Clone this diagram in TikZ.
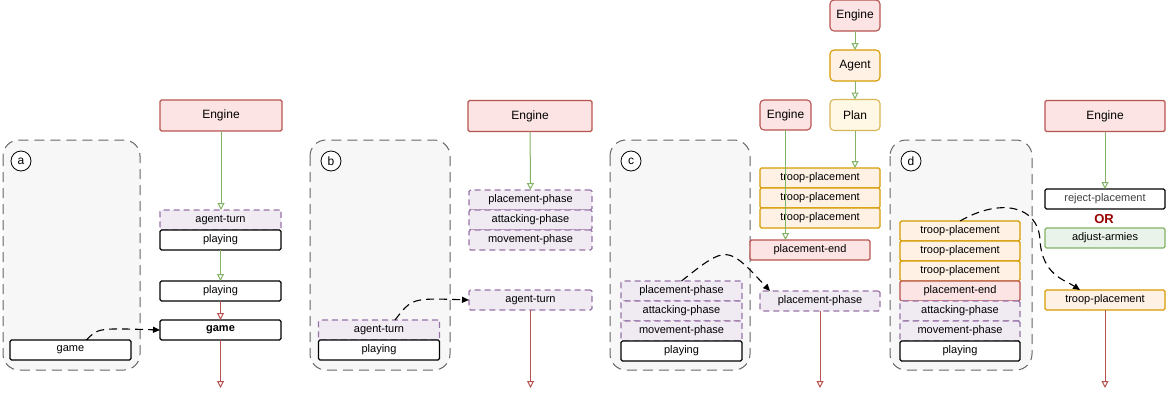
\documentclass[tikz,border=0pt]{standalone}
\usepackage{fontspec}
\setmainfont{Liberation Sans}
\usetikzlibrary{arrows.meta}
\definecolor{enginedraw}{HTML}{B85450}
\definecolor{enginefill}{HTML}{FBE4E3}
\definecolor{phasedraw}{HTML}{9673A6}
\definecolor{phasefill}{HTML}{F0EAF3}
\definecolor{troopdraw}{HTML}{D79B00}
\definecolor{troopfill}{HTML}{FFF2E5}
\definecolor{plandraw}{HTML}{D6B656}
\definecolor{planfill}{HTML}{FFF8E5}
\definecolor{adjustdraw}{HTML}{82B366}
\definecolor{adjustfill}{HTML}{EAF3E9}
\definecolor{ordraw}{HTML}{990000}
\begin{document}
\begin{tikzpicture}
  [x=1pt,y=-1pt,
   every node/.style={font=\fontsize{11}{13}\selectfont},
   playbox/.style={rectangle,draw=black,fill=white,line width=1.1pt,rounded corners=1.5pt,
                   inner sep=0,outer sep=0,minimum width=121pt,minimum height=20pt},
   phasebox/.style={playbox,draw=phasedraw,fill=phasefill,dash pattern=on 6pt off 4pt},
   troopbox/.style={playbox,draw=troopdraw,fill=troopfill},
   endbox/.style={playbox,draw=enginedraw,fill=enginefill},
   adjustbox/.style={playbox,draw=adjustdraw,fill=adjustfill},
   enginebox/.style={playbox,draw=enginedraw,fill=enginefill,minimum width=122pt,
                     minimum height=31pt,font=\fontsize{12}{14}\selectfont},
   smallbox/.style={enginebox,minimum width=50pt,rounded corners=4pt},
   frame/.style={draw=black!60,fill=black!3,line width=1pt,rounded corners=16pt,
                 dash pattern=on 10pt off 6pt},
   tagring/.style={circle,draw=black,fill=white,line width=0.8pt,minimum size=20pt,
                   inner sep=0,font=\fontsize{12}{14}\selectfont},
   goarrow/.style={draw=adjustdraw,line width=1pt,-{Triangle[open,length=7pt,width=7pt]}},
   exitarrow/.style={draw=enginedraw,line width=1pt,-{Triangle[open,length=7pt,width=7pt]}},
   dasharrow/.style={draw=black,line width=1.1pt,dash pattern=on 8pt off 5pt,
                     -{Triangle[length=7pt,width=6pt]}}]
  \useasboundingbox (0,0) rectangle (1166,400);
  % (a)
  \draw[frame] (3,140) rectangle (140,370);
  \node[tagring] (tagA) at (21,161) {a};
  \node[playbox] (gameIn) at (70.5,350) {game};
  \node[enginebox] (engA) at (221,115.5) {Engine};
  \node[phasebox] (turnA) at (220.5,220) {agent-turn};
  \node[playbox] (playA1) at (220.5,240) {playing};
  \node[playbox] (playA2) at (220.5,291) {playing};
  \node[playbox,font=\fontsize{11}{13}\selectfont\bfseries] (gameA) at (220.5,330) {game};
  \coordinate (endA) at (220.5,388);
  \draw[goarrow] (engA.south) -- (engA.south |- turnA.north);
  \draw[goarrow] (playA1) -- (playA2);
  \draw[exitarrow] (playA2) -- (gameA);
  \draw[exitarrow] (gameA) -- (endA);
  \draw[dasharrow] ([xshift=16pt]gameIn.north) .. controls (98,328) .. (gameA.west);
  % (b)
  \draw[frame] (310,140) rectangle (450,370);
  \node[tagring] (tagB) at (331,161) {b};
  \node[phasebox] (turnB) at (379,330) {agent-turn};
  \node[playbox] (playB) at (379,350) {playing};
  \node[enginebox,minimum width=124pt] (engB) at (530,116) {Engine};
  \node[phasebox,minimum width=123pt] (placeB) at (530.5,200) {placement-phase};
  \node[phasebox,minimum width=123pt] (attackB) at (530.5,220) {attacking-phase};
  \node[phasebox,minimum width=123pt] (moveB) at (530.5,240) {movement-phase};
  \node[phasebox,minimum width=123pt] (turnB2) at (530.5,300) {agent-turn};
  \coordinate (endB) at (530.5,388);
  \draw[goarrow] (engB) -- (placeB);
  \draw[exitarrow] (turnB2) -- (endB);
  \draw[dasharrow] ([xshift=16pt]turnB.north) .. controls (412,298) .. (turnB2.west);
  % (c)
  \draw[frame] (610,140) rectangle (750,370);
  \node[tagring] (tagC) at (631,161) {c};
  \node[phasebox] (placeC) at (681.5,291) {placement-phase};
  \node[phasebox] (attackC) at (681.5,311) {attacking-phase};
  \node[phasebox] (moveC) at (681.5,331) {movement-phase};
  \node[playbox] (playC) at (681.5,351) {playing};
  \node[smallbox] (engC) at (855,15.5) {Engine};
  \node[smallbox,draw=troopdraw,fill=troopfill] (agentC) at (855,65.5) {Agent};
  \node[smallbox,draw=plandraw,fill=planfill] (planC) at (855,115) {Plan};
  \node[smallbox,minimum width=51pt,minimum height=30pt] (engC2) at (785.5,115) {Engine};
  \node[troopbox,minimum width=120pt] (troopC1) at (820,178) {troop-placement};
  \node[troopbox,minimum width=120pt] (troopC2) at (820,198) {troop-placement};
  \node[troopbox,minimum width=120pt] (troopC3) at (820,218) {troop-placement};
  \node[endbox,minimum width=120pt] (endingC) at (810,250) {placement-end};
  \node[phasebox,minimum width=120pt] (placeC2) at (820,301) {placement-phase};
  \coordinate (endC) at (820,388);
  \draw[goarrow] (engC) -- (agentC);
  \draw[goarrow] (agentC) -- (planC);
  \draw[goarrow] (planC.south) -- (planC.south |- troopC1.north);
  \draw[goarrow] (engC2.south) -- (engC2.south |- endingC.north);
  \draw[exitarrow] (placeC2) -- (endC);
  \draw[dasharrow] (placeC.north) .. controls (727,245) .. ([xshift=10pt]placeC2.north west);
  % (d)
  \draw[frame] (890,140) rectangle (1032,370);
  \node[tagring] (tagD) at (911,161) {d};
  \node[troopbox,minimum width=120pt] (troopD1) at (960,231) {troop-placement};
  \node[troopbox,minimum width=120pt] (troopD2) at (960,251) {troop-placement};
  \node[troopbox,minimum width=120pt] (troopD3) at (960,271) {troop-placement};
  \node[endbox,minimum width=120pt] (endingD) at (960,291) {placement-end};
  \node[phasebox,minimum width=120pt] (attackD) at (960,311) {attacking-phase};
  \node[phasebox,minimum width=120pt] (moveD) at (960,331) {movement-phase};
  \node[playbox,minimum width=120pt] (playD) at (960,351) {playing};
  \node[enginebox,minimum width=120pt] (engD) at (1105,116) {Engine};
  \node[playbox,minimum width=120pt,text=black!75] (rejectD) at (1105,199) {reject-placement};
  \node[font=\fontsize{13}{15}\selectfont\bfseries,text=ordraw] (orD) at (1104,219) {OR};
  \node[adjustbox,minimum width=120pt] (adjustD) at (1105,238) {adjust-armies};
  \node[troopbox,minimum width=120pt] (troopD4) at (1105,300) {troop-placement};
  \coordinate (endD) at (1105,388);
  \draw[goarrow] (engD) -- (rejectD);
  \draw[exitarrow] (troopD4) -- (endD);
  \draw[dasharrow] (troopD1.north) .. controls (1000,198) and (1038,205) .. (1040,240)
    .. controls (1042,275) and (1065,280) .. ([xshift=-25pt]troopD4.north);
\end{tikzpicture}
\end{document}
